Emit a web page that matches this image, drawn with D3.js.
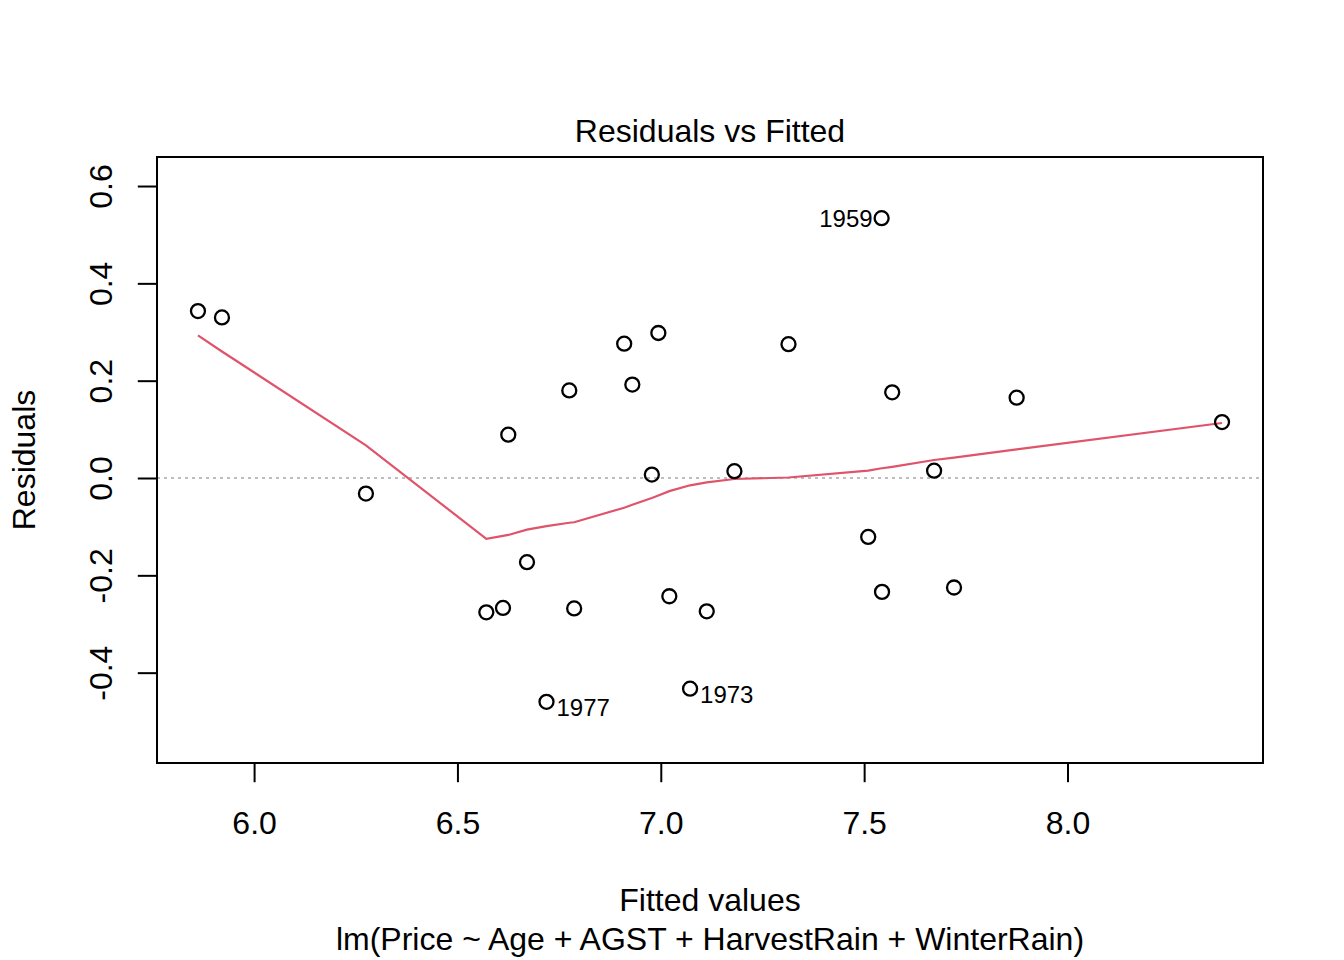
<!DOCTYPE html>
<html>
<head>
<meta charset="utf-8">
<script src="https://cdn.jsdelivr.net/npm/d3@7"></script>
<style>
  body { margin: 0; background: #fff; }
  svg { display: block; font-family: "Liberation Sans", Arial, Helvetica, sans-serif; }
</style>
</head>
<body>
<svg id="chart" width="1344" height="960"></svg>
<script>
// fitted values, sorted, with residuals and the lowess smooth
const fitted = [5.862, 5.921, 6.275, 6.571, 6.612, 6.625, 6.671, 6.719, 6.775, 6.787,
  6.910, 6.930, 6.978, 6.994, 7.021, 7.072, 7.113, 7.181, 7.314, 7.510,
  7.543, 7.544, 7.569, 7.672, 7.721, 7.875, 8.380];
const residuals = [0.343, 0.330, -0.032, -0.276, -0.267, 0.089, -0.173, -0.460, 0.180, -0.268,
  0.276, 0.192, 0.007, 0.298, -0.243, -0.433, -0.274, 0.014, 0.275, -0.121,
  0.534, -0.234, 0.176, 0.015, -0.225, 0.165, 0.115];
const smooth = [0.293, 0.260, 0.067, -0.125, -0.119, -0.117, -0.106, -0.099, -0.092, -0.091,
  -0.061, -0.055, -0.041, -0.036, -0.027, -0.015, -0.009, -0.002, 0.001, 0.015,
  0.020, 0.020, 0.023, 0.037, 0.042, 0.059, 0.113];

// labelled outliers
const idIndex = [20, 7, 15];
const idText = ["1959", "1977", "1973"];

const xTicks = [6.0, 6.5, 7.0, 7.5, 8.0];
const yTicks = [-0.4, -0.2, 0.0, 0.2, 0.4, 0.6];

const title = "Residuals vs Fitted";
const xLabel = "Fitted values";
const subCaption = "lm(Price ~ Age + AGST + HarvestRain + WinterRain)";
const yLabel = "Residuals";

const box = { left: 157, right: 1263, top: 157, bottom: 763 };

// R style ranges: 4% axis padding, residual range first widened by 8%
function extend(lo, hi, f) {
  const d = (hi - lo) * f;
  return [lo - d, hi + d];
}
const xlim = extend(d3.min(fitted), d3.max(fitted), 0.04);
let ylim = extend(d3.min(residuals), d3.max(residuals), 0.08);
ylim = extend(ylim[0], ylim[1], 0.04);

const x = d3.scaleLinear().domain(xlim).range([box.left, box.right]);
const y = d3.scaleLinear().domain(ylim).range([box.bottom, box.top]);

const svg = d3.select("#chart");
const fmt = d => d3.format(".1f")(d).replace("\u2212", "-");

// zero line
svg.append("line")
  .attr("x1", box.left).attr("x2", box.right)
  .attr("y1", y(0)).attr("y2", y(0))
  .attr("stroke", "#bebebe")
  .attr("stroke-width", 2)
  .attr("stroke-dasharray", "3,4");

// lowess smooth
svg.append("path")
  .datum(fitted.map((f, i) => [f, smooth[i]]))
  .attr("fill", "none")
  .attr("stroke", "#DF536B")
  .attr("stroke-width", 2.2)
  .attr("d", d3.line().x(d => x(d[0])).y(d => y(d[1])));

// points
svg.append("g")
  .selectAll("circle")
  .data(fitted.map((f, i) => [f, residuals[i]]))
  .enter()
  .append("circle")
  .attr("cx", d => x(d[0]))
  .attr("cy", d => y(d[1]))
  .attr("r", 7)
  .attr("fill", "none")
  .attr("stroke", "#000")
  .attr("stroke-width", 2.3);

// id labels: left of point if in right half, nudged down if negative
const midX = (d3.min(fitted) + d3.max(fitted)) / 2;
svg.append("g")
  .selectAll("text")
  .data(idIndex)
  .enter()
  .append("text")
  .attr("font-size", 24)
  .attr("x", i => fitted[i] > midX ? x(fitted[i]) - 9 : x(fitted[i]) + 10)
  .attr("y", i => y(residuals[i]) + 8.6 + (residuals[i] < 0 ? 5.7 : 0))
  .attr("text-anchor", i => fitted[i] > midX ? "end" : "start")
  .text((i, k) => idText[k]);

// axes
const xAxis = svg.append("g")
  .attr("transform", `translate(0,${box.bottom})`)
  .call(d3.axisBottom(x).tickValues(xTicks).tickFormat(fmt).tickSize(19.2));
xAxis.select(".domain").remove();
xAxis.selectAll("line").attr("stroke", "#000").attr("stroke-width", 2);
xAxis.selectAll("text")
  .attr("y", 71).attr("dy", null)
  .attr("fill", "#000")
  .style("font-size", "32px")
  .style("font-family", "'Liberation Sans', Arial, sans-serif");

const yAxis = svg.append("g")
  .attr("transform", `translate(${box.left},0)`)
  .call(d3.axisLeft(y).tickValues(yTicks).tickFormat(fmt).tickSize(19.2));
yAxis.select(".domain").remove();
yAxis.selectAll("line").attr("stroke", "#000").attr("stroke-width", 2);
yAxis.selectAll("text")
  .attr("x", null).attr("dy", null)
  .attr("text-anchor", "middle")
  .attr("transform", "translate(-45.3,0) rotate(-90)")
  .attr("fill", "#000")
  .style("font-size", "32px")
  .style("font-family", "'Liberation Sans', Arial, sans-serif");

// frame
svg.append("rect")
  .attr("x", box.left).attr("y", box.top)
  .attr("width", box.right - box.left)
  .attr("height", box.bottom - box.top)
  .attr("fill", "none")
  .attr("stroke", "#000")
  .attr("stroke-width", 2);

// titles
const midBox = (box.left + box.right) / 2;
svg.append("text")
  .attr("x", midBox).attr("y", 142)
  .attr("text-anchor", "middle")
  .attr("font-size", 32)
  .text(title);

svg.append("text")
  .attr("x", midBox).attr("y", 911)
  .attr("text-anchor", "middle")
  .attr("font-size", 32)
  .text(xLabel);

svg.append("text")
  .attr("x", midBox).attr("y", 950)
  .attr("text-anchor", "middle")
  .attr("font-size", 32)
  .text(subCaption);

svg.append("text")
  .attr("transform", `translate(35,${(box.top + box.bottom) / 2}) rotate(-90)`)
  .attr("text-anchor", "middle")
  .attr("font-size", 32)
  .text(yLabel);
</script>
</body>
</html>
